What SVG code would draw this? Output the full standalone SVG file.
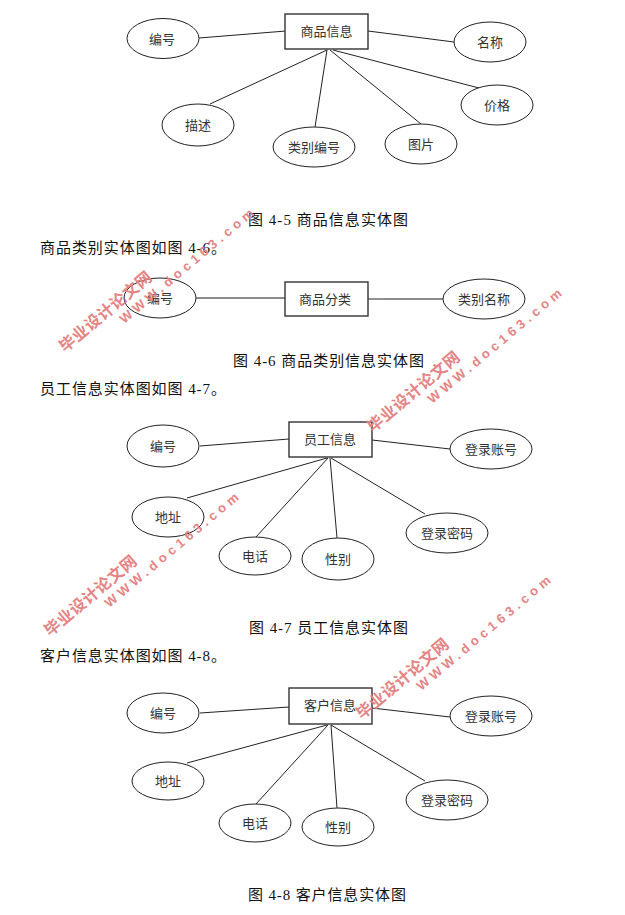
<svg xmlns="http://www.w3.org/2000/svg" width="625" height="915" viewBox="0 0 625 915">
<style>
.e{fill:#fff;stroke:#222;stroke-width:1}
.r{fill:#fff;stroke:#333;stroke-width:1.4}
.l{font-family:"Noto Sans CJK SC","Liberation Sans",sans-serif;font-size:13px;fill:#333;text-anchor:middle}
.c{font-family:"Liberation Serif","Noto Sans CJK SC",serif;font-size:15px;fill:#111}
.cn line{stroke:#222;stroke-width:1}
.wm1{font-family:"Noto Sans CJK SC",sans-serif;font-weight:700;font-size:16px;fill:#e48484}
.wm2{font-family:"Liberation Sans",sans-serif;font-weight:700;font-size:13px;fill:#e48484}
</style>
<rect width="625" height="915" fill="#fff"/>

<g id="connectors" class="cn">
<line x1="199" y1="38" x2="286" y2="31"/>
<line x1="368" y1="31" x2="454" y2="42"/>
<line x1="327" y1="50" x2="210" y2="104"/>
<line x1="327" y1="50" x2="315" y2="127"/>
<line x1="330" y1="50" x2="421" y2="124"/>
<line x1="333" y1="50" x2="479" y2="88"/>

<line x1="196" y1="298" x2="285" y2="298" style="stroke:#666;stroke-width:1.6"/>
<line x1="355" y1="299" x2="385" y2="299"/>
<line x1="385" y1="299" x2="443" y2="299" style="stroke:#666;stroke-width:1.6"/>

<line x1="200" y1="446" x2="289" y2="439"/>
<line x1="372" y1="440" x2="450" y2="449"/>
<line x1="327" y1="458" x2="187" y2="498"/>
<line x1="328" y1="458" x2="256" y2="537"/>
<line x1="330" y1="458" x2="337" y2="538"/>
<line x1="331" y1="458" x2="425" y2="514"/>

<line x1="200" y1="713" x2="289" y2="707"/>
<line x1="372" y1="708" x2="450" y2="717"/>
<line x1="327" y1="725" x2="187" y2="763"/>
<line x1="328" y1="725" x2="256" y2="804"/>
<line x1="331" y1="725" x2="337" y2="808"/>
<line x1="331" y1="725" x2="425" y2="781"/>
</g>

<!-- Figure 4-5 -->
<g id="goods-info"><rect class="r" x="285" y="14" width="83" height="35"/><text class="l" x="326.5" y="36">商品信息</text></g>
<g id="g-bianhao"><ellipse class="e" cx="163" cy="38.5" rx="36" ry="20"/><text class="l" x="162" y="43.5">编号</text></g>
<g id="g-mingcheng"><ellipse class="e" cx="490" cy="42" rx="36" ry="20"/><text class="l" x="490" y="47">名称</text></g>
<g id="g-jiage"><ellipse class="e" cx="497" cy="105" rx="36" ry="20"/><text class="l" x="497" y="110">价格</text></g>
<g id="g-miaoshu"><ellipse class="e" cx="198" cy="125" rx="36" ry="21"/><text class="l" x="198" y="130">描述</text></g>
<g id="g-leibiebianhao"><ellipse class="e" cx="314" cy="147" rx="41" ry="20"/><text class="l" x="314" y="152">类别编号</text></g>
<g id="g-tupian"><ellipse class="e" cx="421" cy="144" rx="36" ry="20"/><text class="l" x="421" y="149">图片</text></g>
<text class="c" x="248" y="225" textLength="160">图 4-5 商品信息实体图</text>
<text class="c" x="40" y="253" textLength="186">商品类别实体图如图 4-6。</text>

<!-- Figure 4-6 -->
<g id="category"><rect class="r" x="285" y="282" width="83" height="34"/><text class="l" x="325" y="304">商品分类</text></g>
<g id="c-bianhao"><ellipse class="e" cx="160" cy="298" rx="36" ry="20"/><text class="l" x="160" y="303">编号</text></g>
<g id="c-leibiemingcheng"><ellipse class="e" cx="484" cy="299" rx="41" ry="20"/><text class="l" x="484" y="304">类别名称</text></g>
<text class="c" x="233" y="366" textLength="191">图 4-6 商品类别信息实体图</text>
<text class="c" x="40" y="394" textLength="186">员工信息实体图如图 4-7。</text>

<!-- Figure 4-7 -->
<g id="staff"><rect class="r" x="289" y="422" width="83" height="35"/><text class="l" x="330" y="444">员工信息</text></g>
<g id="s-bianhao"><ellipse class="e" cx="163" cy="446" rx="36" ry="21"/><text class="l" x="163" y="451">编号</text></g>
<g id="s-zhanghao"><ellipse class="e" cx="491" cy="449" rx="41" ry="20"/><text class="l" x="491" y="454">登录账号</text></g>
<g id="s-dizhi"><ellipse class="e" cx="168" cy="517" rx="36" ry="20"/><text class="l" x="168" y="522">地址</text></g>
<g id="s-dianhua"><ellipse class="e" cx="255" cy="556" rx="36" ry="19"/><text class="l" x="255" y="561">电话</text></g>
<g id="s-xingbie"><ellipse class="e" cx="338" cy="559" rx="36" ry="21"/><text class="l" x="338" y="564">性别</text></g>
<g id="s-mima"><ellipse class="e" cx="447" cy="533" rx="41" ry="20"/><text class="l" x="447" y="538">登录密码</text></g>
<text class="c" x="249" y="633" textLength="159">图 4-7 员工信息实体图</text>
<text class="c" x="40" y="661" textLength="186">客户信息实体图如图 4-8。</text>

<!-- Figure 4-8 -->
<g id="customer"><rect class="r" x="289" y="688" width="83" height="36"/><text class="l" x="330" y="710">客户信息</text></g>
<g id="k-bianhao"><ellipse class="e" cx="163" cy="713" rx="36" ry="20"/><text class="l" x="163" y="718">编号</text></g>
<g id="k-zhanghao"><ellipse class="e" cx="491" cy="716" rx="41" ry="20"/><text class="l" x="491" y="721">登录账号</text></g>
<g id="k-dizhi"><ellipse class="e" cx="168" cy="781" rx="36" ry="19"/><text class="l" x="168" y="786">地址</text></g>
<g id="k-dianhua"><ellipse class="e" cx="255" cy="823" rx="36" ry="19"/><text class="l" x="255" y="828">电话</text></g>
<g id="k-xingbie"><ellipse class="e" cx="338" cy="827" rx="36" ry="19"/><text class="l" x="338" y="832">性别</text></g>
<g id="k-mima"><ellipse class="e" cx="447" cy="800" rx="41" ry="20"/><text class="l" x="447" y="805">登录密码</text></g>
<text class="c" x="248" y="900" textLength="158">图 4-8 客户信息实体图</text>

<!-- watermarks -->
<g id="watermarks">
<g transform="translate(65,353) rotate(-40)"><text class="wm1" x="0" y="0" textLength="115">毕业设计论文网</text><text class="wm2" x="64" y="16" textLength="170">WWW.doc163.com</text></g>
<g transform="translate(373,433) rotate(-40)"><text class="wm1" x="0" y="0" textLength="115">毕业设计论文网</text><text class="wm2" x="64" y="16" textLength="170">WWW.doc163.com</text></g>
<g transform="translate(50,637) rotate(-40)"><text class="wm1" x="0" y="0" textLength="115">毕业设计论文网</text><text class="wm2" x="64" y="16" textLength="170">WWW.doc163.com</text></g>
<g transform="translate(362,720) rotate(-40)"><text class="wm1" x="0" y="0" textLength="115">毕业设计论文网</text><text class="wm2" x="64" y="16" textLength="170">WWW.doc163.com</text></g>
</g>
</svg>
